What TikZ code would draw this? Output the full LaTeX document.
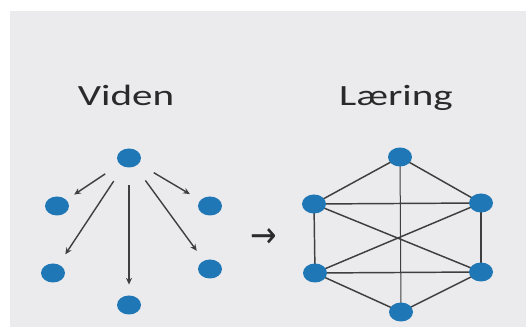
\documentclass[tikz,border=0pt]{standalone}
\usepackage{fontspec}
\setmainfont{Carlito}
\newfontfamily\symfont{DejaVu Sans}
\usetikzlibrary{shapes.geometric,arrows.meta}
\pgfdeclarelayer{bg}
\pgfsetlayers{bg,main}
\definecolor{paper}{HTML}{EBEAEC}
\definecolor{dot}{HTML}{1F77B6}
\definecolor{ink}{HTML}{2A2A2A}
\begin{document}
\begin{tikzpicture}[x=0.75pt,y=-0.75pt,
  dotnode/.style={ellipse,fill=dot,minimum width=18pt,minimum height=14.25pt,inner sep=0pt},
  title/.style={font=\fontsize{22}{26}\selectfont,text=ink,anchor=base,xscale=1.4},
  spoke/.style={draw=ink!90,line width=1.05pt,-{Stealth[length=5pt,width=4.5pt]},
                shorten <=13pt,shorten >=9pt},
  link/.style={draw=ink!90,line width=1.1pt},
  ]
  \useasboundingbox (0,0) rectangle (526,327);
  \begin{pgfonlayer}{bg}
    \fill[white] (0,0) rectangle (526,327);
    \fill[paper] (10,11) rectangle (526,327);
  \end{pgfonlayer}

  % headings
  \node[title] (hv) at (126,106) {Viden};
  \node[title] (hl) at (396,106) {Læring};

  % Viden: one source, five receivers
  \node[dotnode] (v0) at (129,158) {};
  \node[dotnode] (v1) at (57,206) {};
  \node[dotnode] (v2) at (53,273) {};
  \node[dotnode] (v3) at (129,305) {};
  \node[dotnode] (v4) at (210,269) {};
  \node[dotnode] (v5) at (210,206) {};

  \draw[spoke,shorten >=7pt] (v0) -- (v1);
  \draw[spoke] (v0) -- (v2);
  \draw[spoke,shorten >=8pt] (v0) -- (v3);
  \draw[spoke] (v0) -- (v4);
  \draw[spoke] (v0) -- (v5);

  % transition arrow
  \node[font=\symfont\fontsize{27}{27}\selectfont,text=ink,inner sep=0pt,xscale=0.88] (arr) at (264,238) {→};

  % Læring: densely linked network
  \node[dotnode] (l0) at (400,157) {};
  \node[dotnode] (l1) at (314,204) {};
  \node[dotnode] (l2) at (481,203) {};
  \node[dotnode] (l3) at (315,273) {};
  \node[dotnode] (l4) at (481,272) {};
  \node[dotnode] (l5) at (401,312) {};

  \begin{pgfonlayer}{bg}
    \draw[link] (l0.center) -- (l1.center);
    \draw[link] (l0.center) -- (l2.center);
    \draw[link,line width=0.75pt] (l0.center) -- (l5.center);
    \draw[link] (l1.center) -- (l2.center);
    \draw[link] (l1.center) -- (l3.center);
    \draw[link] (l1.center) -- (l4.center);
    \draw[link] (l2.center) -- (l4.center);
    \draw[link] (l2.center) -- (l3.center);
    \draw[link] (l3.center) -- (l4.center);
    \draw[link] (l3.center) -- (l5.center);
    \draw[link] (l4.center) -- (l5.center);
  \end{pgfonlayer}
\end{tikzpicture}
\end{document}
